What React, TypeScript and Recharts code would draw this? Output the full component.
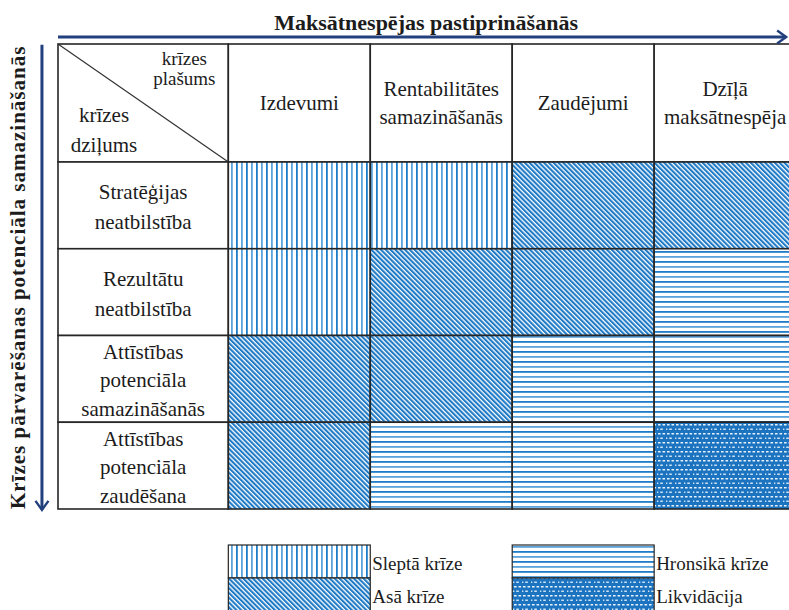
import React from 'react';
import { ComposedChart, XAxis, YAxis, ReferenceArea, ReferenceLine } from 'recharts';

if (typeof document !== 'undefined') document.body.style.margin = '0';

const xTitle = 'Maksātnespējas pastiprināšanās';
const yTitle = 'Krīzes pārvarēšanas potenciāla samazināšanās';
const cornerTop = ['krīzes', 'plašums'];
const cornerBottom = ['krīzes', 'dziļums'];

const columns = [
  ['Izdevumi'],
  ['Rentabilitātes', 'samazināšanās'],
  ['Zaudējumi'],
  ['Dzīļā', 'maksātnespēja'],
];

const rows = [
  ['Stratēģijas', 'neatbilstība'],
  ['Rezultātu', 'neatbilstība'],
  ['Attīstības', 'potenciāla', 'samazināšanās'],
  ['Attīstības', 'potenciāla', 'zaudēšana'],
];

const crisisTypes = ['Sleptā krīze', 'Asā krīze', 'Hronsikā krīze', 'Likvidācija'];

// crisis type index for every row x column
const cells = [
  [0, 0, 1, 1],
  [0, 1, 1, 2],
  [1, 1, 2, 2],
  [1, 2, 2, 3],
];

// layout (x in column units, y in row units)
const LABEL_W = 1.2;
const HEAD_H = 1.36;
const X_MAX = 5.15;
const Y_MAX = HEAD_H + rows.length;
const ARROW_Y = -0.08;
const ARROW_X = -0.113;
const ARROW_X_END = 5.13;
const LEG_TOP = 0.415;
const LEG_H = 0.38;

const NAVY = '#22407E';
const GRID = '#262626';
const INK = '#1c1c1c';
const FONT = "'Liberation Serif', 'DejaVu Serif', serif";
const patternIds = ['pHidden', 'pAcute', 'pChronic', 'pLiquid'];

function Lines({ x, y, lines, step, size = 21, anchor = 'middle' }: any) {
  const y0 = y - ((lines.length - 1) * step) / 2;
  return (
    <g>
      {lines.map((l: string, i: number) => (
        <text
          key={i}
          x={x}
          y={y0 + i * step}
          textAnchor={anchor}
          dominantBaseline="central"
          style={{ fontFamily: FONT, fontSize: size }}
          fill={INK}
        >
          {l}
        </text>
      ))}
    </g>
  );
}

const cellShape = (fill: string, lines?: string[], step = 28, dy = 0) => (p: any) => (
  <g>
    <rect x={p.x} y={p.y} width={p.width} height={p.height} fill={fill} stroke={GRID} strokeWidth={1.6} />
    {lines && <Lines x={p.x + p.width / 2} y={p.y + p.height / 2 + dy} lines={lines} step={step} />}
  </g>
);

const cornerShape = (p: any) => (
  <g>
    <rect x={p.x} y={p.y} width={p.width} height={p.height} fill="#fff" stroke={GRID} strokeWidth={1.6} />
    <line x1={p.x} y1={p.y} x2={p.x + p.width} y2={p.y + p.height} stroke="#333" strokeWidth={1.2} />
    <Lines x={p.x + p.width - 44} y={p.y + 24} lines={cornerTop} step={20} size={19} />
    <Lines x={p.x + 46} y={p.y + 86} lines={cornerBottom} step={30} />
  </g>
);

const legendShape = (fill: string, label: string) => (p: any) => (
  <g>
    <rect x={p.x} y={p.y} width={p.width} height={p.height} fill={fill} stroke={GRID} strokeWidth={1.2} />
    <text
      x={p.x + p.width + 2}
      y={p.y + p.height / 2 + 2}
      dominantBaseline="central"
      style={{ fontFamily: FONT, fontSize: 19 }}
      fill={INK}
    >
      {label}
    </text>
  </g>
);

const hArrow = (p: any) => (
  <g>
    <line x1={p.x1} y1={p.y1} x2={p.x2} y2={p.y2} stroke={NAVY} strokeWidth={3} markerEnd="url(#arrowHead)" />
    <text
      x={(p.x1 + p.x2) / 2 + 4}
      y={p.y1 - 15}
      textAnchor="middle"
      dominantBaseline="central"
      style={{ fontFamily: FONT, fontSize: 22, fontWeight: 'bold' }}
      fill={INK}
    >
      {xTitle}
    </text>
  </g>
);

const vArrow = (p: any) => {
  const cx = p.x1 - 24;
  const cy = (p.y1 + p.y2) / 2;
  return (
    <g>
      <line x1={p.x1} y1={p.y1} x2={p.x2} y2={p.y2} stroke={NAVY} strokeWidth={3} markerEnd="url(#arrowHead)" />
      <text
        x={cx}
        y={cy}
        transform={`rotate(-90 ${cx} ${cy})`}
        textAnchor="middle"
        dominantBaseline="central"
        style={{ fontFamily: FONT, fontSize: 21, fontWeight: 'bold', letterSpacing: 1 }}
        fill={INK}
      >
        {yTitle}
      </text>
    </g>
  );
};

export default function App() {
  return (
    <div style={{ width: 789, height: 610, background: '#fff' }}>
      <ComposedChart width={789} height={610} margin={{ top: 44, right: 0, bottom: 101, left: 58 }}>
        <defs>
          <pattern id="pHidden" patternUnits="userSpaceOnUse" width={10} height={10}>
            <rect width={10} height={10} fill="#fff" />
            <rect x={1} width={1.8} height={10} fill="#5AA3DD" />
            <rect x={6} width={1.8} height={10} fill="#1E7CC9" />
          </pattern>
          <pattern id="pAcute" patternUnits="userSpaceOnUse" width={3.4} height={10} patternTransform="rotate(-45)">
            <rect width={3.4} height={10} fill="#fff" />
            <rect width={2.1} height={10} fill="#1F7AC6" />
          </pattern>
          <pattern id="pChronic" patternUnits="userSpaceOnUse" width={10} height={10}>
            <rect width={10} height={10} fill="#fff" />
            <rect y={1} width={10} height={1.8} fill="#1E7CC9" />
            <rect y={6} width={10} height={1.8} fill="#5AA3DD" />
          </pattern>
          <pattern id="pLiquid" patternUnits="userSpaceOnUse" width={9} height={9}>
            <rect width={9} height={9} fill="#1C73C0" />
            <rect x={1} y={1} width={2.6} height={1.5} fill="#E8F2FB" />
            <rect x={5.5} y={1} width={2.6} height={1.5} fill="#E8F2FB" />
            <rect x={3.25} y={5.5} width={2.6} height={1.5} fill="#CFE3F5" />
            <rect x={-1.25} y={5.5} width={2.6} height={1.5} fill="#CFE3F5" />
          </pattern>
          <marker
            id="arrowHead"
            markerUnits="userSpaceOnUse"
            markerWidth={16}
            markerHeight={16}
            refX={12}
            refY={8}
            orient="auto"
          >
            <path d="M3,1.5 L12,8 L3,14.5" fill="none" stroke={NAVY} strokeWidth={2.4} />
          </marker>
        </defs>
        <XAxis type="number" dataKey="x" domain={[0, X_MAX]} hide allowDataOverflow />
        <YAxis type="number" dataKey="y" domain={[0, Y_MAX]} reversed hide allowDataOverflow />

        <ReferenceArea x1={0} x2={LABEL_W} y1={0} y2={HEAD_H} ifOverflow="visible" shape={cornerShape} />
        {columns.map((c, i) => (
          <ReferenceArea
            key={'h' + i}
            x1={LABEL_W + i}
            x2={LABEL_W + i + 1}
            y1={0}
            y2={HEAD_H}
            ifOverflow="visible"
            shape={cellShape('#fff', c, 28)}
          />
        ))}
        {rows.map((r, j) => (
          <ReferenceArea
            key={'r' + j}
            x1={0}
            x2={LABEL_W}
            y1={HEAD_H + j}
            y2={HEAD_H + j + 1}
            ifOverflow="visible"
            shape={cellShape('#fff', r, r.length > 2 ? 28.5 : 30, 1.5)}
          />
        ))}
        {cells.map((row, j) =>
          row.map((t, i) => (
            <ReferenceArea
              key={'c' + j + '-' + i}
              x1={LABEL_W + i}
              x2={LABEL_W + i + 1}
              y1={HEAD_H + j}
              y2={HEAD_H + j + 1}
              ifOverflow="visible"
              shape={cellShape(`url(#${patternIds[t]})`)}
            />
          ))
        )}
        {crisisTypes.map((name, k) => {
          const col = Math.floor(k / 2) * 2;
          const r = k % 2;
          return (
            <ReferenceArea
              key={'l' + k}
              x1={LABEL_W + col}
              x2={LABEL_W + col + 1}
              y1={Y_MAX + LEG_TOP + r * LEG_H}
              y2={Y_MAX + LEG_TOP + (r + 1) * LEG_H}
              ifOverflow="visible"
              shape={legendShape(`url(#${patternIds[k]})`, name)}
            />
          );
        })}

        <ReferenceLine
          segment={[
            { x: 0, y: ARROW_Y },
            { x: ARROW_X_END, y: ARROW_Y },
          ]}
          ifOverflow="visible"
          shape={hArrow}
        />
        <ReferenceLine
          segment={[
            { x: ARROW_X, y: 0.01 },
            { x: ARROW_X, y: Y_MAX + 0.01 },
          ]}
          ifOverflow="visible"
          shape={vArrow}
        />
      </ComposedChart>
    </div>
  );
}
